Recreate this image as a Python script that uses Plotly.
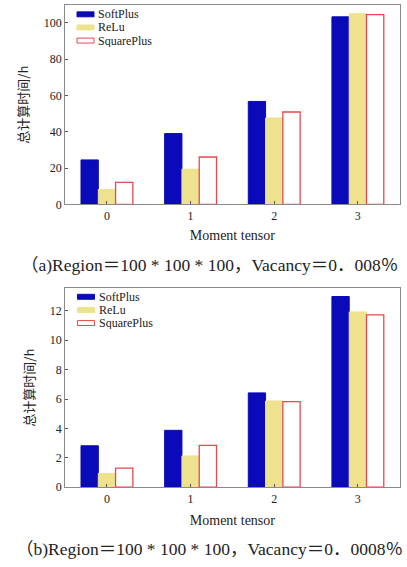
import plotly.graph_objects as go

categories = ["0", "1", "2", "3"]
series_names = ["SoftPlus", "ReLu", "SquarePlus"]

a_softplus = [24.5, 39.0, 56.7, 103.3]
a_relu = [8.2, 19.4, 47.6, 105.0]
a_squareplus = [12.1, 26.1, 50.9, 104.5]

b_softplus = [2.82, 3.87, 6.42, 12.98]
b_relu = [0.94, 2.13, 5.87, 11.93]
b_squareplus = [1.30, 2.84, 5.82, 11.73]

y_title = "总计算时间/h"
x_title = "Moment tensor"
cap_a = "（a)Region＝100 * 100 * 100，Vacancy＝0．008％"
cap_b = "（b)Region＝100 * 100 * 100，Vacancy＝0．0008％"

BLUE = "#0a0ab8"
KHAKI = "#eee28e"
RED = "#e8474f"
SERIF = "Liberation Serif, Noto Sans CJK SC, serif"
CJK = "Noto Sans CJK SC"
W, H = 407, 567

fills = [BLUE, KHAKI, "white"]
lines = [BLUE, KHAKI, RED]
lwidths = [1, 1, 1.3]

fig = go.Figure()

def add_group(vals, xa, ya):
    for name, v, fc, lc, lw in zip(series_names, vals, fills, lines, lwidths):
        fig.add_trace(go.Bar(x=categories, y=v, name=name,
                             marker=dict(color=fc, line=dict(color=lc, width=lw)),
                             xaxis=xa, yaxis=ya, showlegend=False))

add_group([a_softplus, a_relu, a_squareplus], "x", "y")
add_group([b_softplus, b_relu, b_squareplus], "x2", "y2")

axis_common = dict(showline=True, linecolor="#8a8a8a", linewidth=1, mirror=True,
                   ticks="inside", ticklen=3, tickcolor="#555",
                   showgrid=False, zeroline=False,
                   tickfont=dict(family=SERIF, size=12, color="#222"))

# manual legends (pixel layout -> paper coords)
shapes = []
annotations = []
def legend_at(px_x, px_y_first, spacing):
    for i, name in enumerate(series_names):
        cy = px_y_first + i * spacing
        shapes.append(dict(type="rect", xref="paper", yref="paper",
                           x0=px_x / W, x1=(px_x + 17) / W,
                           y0=1 - (cy + 2.5) / H, y1=1 - (cy - 2.5) / H,
                           fillcolor=fills[i], line=dict(color=lines[i], width=1)))
        annotations.append(dict(text=name, x=(px_x + 21) / W, y=1 - cy / H,
                                xref="paper", yref="paper", xanchor="left",
                                yanchor="middle", showarrow=False,
                                height=12, borderpad=0, borderwidth=0,
                                font=dict(family=SERIF, size=12, color="#222")))

legend_at(77, 14.5, 13.3)
legend_at(77.5, 300.5, 13.3)

annotations += [
    dict(text=cap_a, x=0.515, y=1 - 268/567, xref="paper", yref="paper",
         yanchor="middle", showarrow=False, borderpad=0, borderwidth=0,
         font=dict(family=SERIF, size=17.5, color="#222")),
    dict(text=cap_b, x=0.515, y=1 - 566/567, xref="paper", yref="paper",
         yanchor="bottom", showarrow=False, borderpad=0, borderwidth=0,
         font=dict(family=SERIF, size=17.5, color="#222")),
]

fig.update_layout(
    width=W, height=H,
    margin=dict(l=0, r=0, t=0, b=0),
    paper_bgcolor="white", plot_bgcolor="white",
    barmode="group", bargap=0.38, bargroupgap=0.0,
    xaxis=dict(domain=[0.16, 0.982], anchor="y", range=[-0.5, 3.5], **axis_common,
               title=dict(text=x_title, font=dict(family=SERIF, size=14, color="#222"), standoff=8)),
    yaxis=dict(domain=[0.635, 0.991], anchor="x", range=[0, 109.8], dtick=20, **axis_common,
               title=dict(text=y_title, font=dict(family=CJK, size=13, color="#222"), standoff=12)),
    xaxis2=dict(domain=[0.16, 0.982], anchor="y2", range=[-0.5, 3.5], **axis_common,
                title=dict(text=x_title, font=dict(family=SERIF, size=14, color="#222"), standoff=10)),
    yaxis2=dict(domain=[0.130, 0.4855], anchor="x2", range=[0, 13.55], dtick=2, **axis_common,
                title=dict(text=y_title, font=dict(family=CJK, size=13, color="#222"), standoff=12)),
    shapes=shapes,
    annotations=annotations,
)

fig.write_html("out.html")
